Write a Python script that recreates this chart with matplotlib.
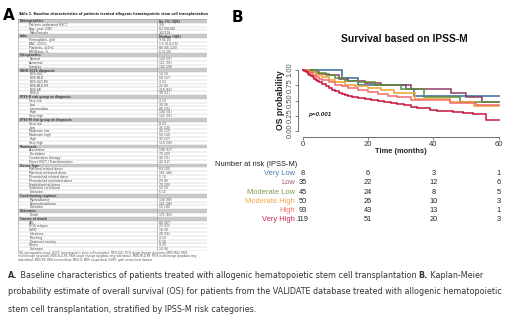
import matplotlib
matplotlib.use("Agg")
import matplotlib.pyplot as plt
from matplotlib.patches import Rectangle
from matplotlib.transforms import blended_transform_factory

W, H = 520, 328
fig = plt.figure(figsize=(5.2, 3.28), dpi=100)


def fx(px):
    return px / W


def fy(py):
    return 1 - py / H


# ------------------------------------------------------------------ data
groups = ["Very Low", "Low", "Moderate Low", "Moderate High", "High", "Very High"]
line_colors = ["#2F6A98", "#8A3E66", "#5E8E3A", "#F2A22E", "#F26B6B", "#C8143E"]
label_colors = ["#4A79A8", "#A0627F", "#7B9C50", "#F0A640", "#F26E6E", "#C8244C"]

vl_t = [0, 12, 17, 31.5, 34]
vl_s = [1.0, 0.875, 0.76, 0.69, 0.57]
low_t = [0, 2, 5, 8, 11, 14, 19, 24, 33, 45.5, 50, 55]
low_s = [1.0, 0.97, 0.94, 0.91, 0.85, 0.82, 0.79, 0.75, 0.69, 0.63, 0.56, 0.47]
ml_t = [0, 4.5, 7, 10, 13, 17, 22, 30, 37, 48]
ml_s = [1.0, 0.955, 0.91, 0.87, 0.82, 0.80, 0.76, 0.69, 0.55, 0.47]
mh_t = [0, 2, 4, 6, 8, 10, 13, 16, 20, 24, 28, 34.5, 45, 52.5]
mh_s = [1.0, 0.96, 0.92, 0.88, 0.84, 0.80, 0.76, 0.73, 0.70, 0.67, 0.62, 0.53, 0.48, 0.41]
hi_t = [0, 1, 2, 3, 4, 5, 6, 8, 10, 12, 14, 17, 20, 23, 26, 29, 33, 45, 53]
hi_s = [1.0, 0.98, 0.95, 0.92, 0.89, 0.86, 0.83, 0.80, 0.76, 0.73, 0.70, 0.67, 0.64,
        0.61, 0.58, 0.55, 0.51, 0.46, 0.43]
vh_t = [0, 0.5, 1, 1.5, 2, 2.5, 3, 3.5, 4, 4.5, 5, 6, 7, 8, 9, 10, 11, 12, 13, 14, 15,
        17, 19, 21, 23, 25, 27, 29, 31, 33, 35, 37, 39, 41, 43, 46, 49, 52, 56]
vh_s = [1.0, 0.98, 0.96, 0.94, 0.92, 0.90, 0.88, 0.86, 0.84, 0.82, 0.80, 0.77, 0.74,
        0.71, 0.68, 0.65, 0.63, 0.61, 0.59, 0.575, 0.56, 0.54, 0.52, 0.505, 0.49,
        0.475, 0.46, 0.44, 0.42, 0.40, 0.385, 0.37, 0.35, 0.335, 0.32, 0.305, 0.29,
        0.275, 0.175]
follow_up_end = 60

risk_times = [0, 20, 40, 60]
risk_very_low = [8, 6, 3, 1]
risk_low = [35, 22, 12, 6]
risk_mod_low = [45, 24, 8, 5]
risk_mod_high = [50, 26, 10, 3]
risk_high = [93, 43, 13, 1]
risk_very_high = [119, 51, 20, 3]

x_ticks = [0, 20, 40, 60]
y_ticks = [0.00, 0.25, 0.50, 0.75, 1.00]
p_value_text = "p=0.001"

# Table 1 (panel A)
table_title = ("Table 1. Baseline characteristics of patients treated allogenic "
               "hematopoietic stem cell transplantation")
table_labels = [
    "Demographics", "Patients underwent HSCT", "Age, year (IQR)", "Male/Female",
    "Labs", "Hemoglobin, g/dl", "ANC, x10⁹/L", "Platelets, x10⁹/L", "BM Blasts, %",
    "Cytogenetics", "Normal", "Abnormal", "Complex",
    "WHO 2016 diagnosis", "MDS-SLD", "MDS-MLD", "MDS-SLD-RS", "MDS-MLD-RS", "MDS-EB", "MDS-U",
    "IPSS-R risk group at diagnosis", "Very low", "Low", "Intermediate", "High", "Very high",
    "IPSS-M risk group at diagnosis", "Very low", "Low", "Moderate low", "Moderate high",
    "High", "Very high",
    "Treatment", "Azacitidine", "Decitabine", "Combination therapy",
    "Direct HSCT / Transformation",
    "Donor Type", "Matched related donor", "Matched unrelated donor",
    "Mismatched related donor", "Mismatched unrelated donor", "Haploidentical donor",
    "Umbilical cord blood", "Unknown",
    "Conditioning regimen", "Myeloablative", "Nonmyeloablative", "Unknown",
    "Outcomes", "Death",
    "Causes of death", "AML", "MDS relapse", "GVHD", "Infections", "Bleeding",
    "Treatment toxicity", "Others", "Unknown",
]
table_values = [
    "No (%) (IQR)", "350", "63 (58-68)", "232/118",
    "Median (IQR)", "9 (8-10)", "1.5 (0.8-2.6)", "80 (45-120)", "6 (2-10)",
    "", "129 (37)", "121 (35)", "100 (29)",
    "", "10 (3)", "58 (17)", "4 (1)", "22 (6)", "218 (62)", "38 (11)",
    "", "4 (1)", "30 (9)", "86 (25)", "108 (31)", "122 (35)",
    "", "8 (2)", "35 (10)", "45 (13)", "50 (14)", "93 (27)", "119 (34)",
    "", "198 (57)", "70 (20)", "40 (11)", "42 (12)",
    "", "69 (20)", "161 (46)", "5 (1)", "29 (8)", "70 (20)", "10 (3)", "6 (2)",
    "", "134 (38)", "161 (46)", "55 (16)",
    "", "171 (49)",
    "", "80 (47)", "23 (13)", "16 (9)", "28 (16)", "4 (2)", "6 (4)", "4 (2)", "10 (6)",
]
table_headers = ["Demographics", "Labs", "Cytogenetics", "WHO 2016 diagnosis",
                 "IPSS-R risk group at diagnosis", "IPSS-M risk group at diagnosis",
                 "Treatment", "Donor Type", "Conditioning regimen", "Outcomes",
                 "Causes of death"]
table_footnote = [
    "IQR: interquartile range; HSCT: hematopoietic stem cell transplant; MDS-SLD: MDS single lineage dysplasia; MDS-MLD: MDS",
    "multilineage dysplasia; MDS-SLD-RS: MDS single lineage dysplasia ring sideroblast; MDS-MLD-RS: MDS multilineage dysplasia ring",
    "sideroblast; MDS-EB: MDS excess blast; MDS-U: MDS unspecified; GVHD: graft versus host disease",
]

caption_lines = [
    [("A.", "bold"), (" Baseline characteristics of patients treated with allogenic hematopoietic stem cell transplantation ", "normal"),
     ("B.", "bold"), (" Kaplan-Meier", "normal")],
    [("probability estimate of overall survival (OS) for patients from the VALIDATE database treated with allogenic hematopoietic", "normal")],
    [("stem cell transplantation, stratified by IPSS-M risk categories.", "normal")],
]

# background axes for free text
ax_bg = fig.add_axes([0, 0, 1, 1])
ax_bg.set_xlim(0, 1)
ax_bg.set_ylim(0, 1)
ax_bg.axis("off")

# ------------------------------------------------------------------ panel labels
fig.text(fx(3), fy(16), "A", fontsize=11, fontweight="bold", va="center", ha="left",
         family="DejaVu Sans")
fig.text(fx(232), fy(17), "B", fontsize=11, fontweight="bold", va="center", ha="left",
         family="DejaVu Sans")

# ------------------------------------------------------------------ table (panel A)
fig.text(fx(18), fy(14), table_title, fontsize=2.3, fontweight="bold", va="center",
         ha="left", color="#222222")
tab_top, tab_bot, tab_left, tab_right = 19, 251, 18, 207
ax_t = fig.add_axes([fx(tab_left), fy(tab_bot), fx(tab_right - tab_left),
                     (tab_bot - tab_top) / H])
n_rows = len(table_labels)
ax_t.set_xlim(0, 1)
ax_t.set_ylim(n_rows, 0)
ax_t.axis("off")
col_split = (157 - tab_left) / (tab_right - tab_left)
for i, (lab, val) in enumerate(zip(table_labels, table_values)):
    is_head = lab in table_headers
    if is_head:
        ax_t.add_patch(Rectangle((0, i), 1, 1, facecolor="#C9C9C9", edgecolor="none"))
    ax_t.plot([0, 1], [i + 1, i + 1], color="#BBBBBB", lw=0.3)
    ax_t.text(0.01 if is_head else 0.06, i + 0.55, lab, fontsize=2.2,
              fontweight="bold" if is_head else "normal", va="center", ha="left",
              color="#444444")
    ax_t.text(col_split + 0.01, i + 0.55, val, fontsize=2.2,
              fontweight="bold" if is_head else "normal", va="center", ha="left",
              color="#444444")
ax_t.plot([0, 1], [0, 0], color="#999999", lw=0.4)
ax_t.plot([col_split, col_split], [0, n_rows], color="#999999", lw=0.4)
ax_t.plot([0, 0], [0, n_rows], color="#999999", lw=0.4)
ax_t.plot([1, 1], [0, n_rows], color="#999999", lw=0.4)
for k, line in enumerate(table_footnote):
    fig.text(fx(18), fy(253 + 3.3 * k), line, fontsize=2.0, va="center", ha="left",
             color="#555555")

# ------------------------------------------------------------------ KM plot (panel B)
x0_px, x60_px = 302.7, 498.7
y0_px, y1_px = 131, 70
ax = fig.add_axes([fx(x0_px), fy(y0_px), fx(x60_px - x0_px), (y0_px - y1_px) / H])
ax.set_xlim(0, 60)
ax.set_ylim(0, 1)

curves = [(vl_t, vl_s), (low_t, low_s), (ml_t, ml_s), (mh_t, mh_s), (hi_t, hi_s),
          (vh_t, vh_s)]
for (t, s), c in zip(curves, line_colors):
    ax.step(list(t) + [follow_up_end], list(s) + [s[-1]], where="post", color=c,
            lw=1.1, clip_on=False, solid_joinstyle="miter")

for sp in ["top", "right"]:
    ax.spines[sp].set_visible(False)
ax.spines["left"].set_position(("outward", 3.4))
ax.spines["bottom"].set_position(("outward", 4.1))
ax.spines["left"].set_bounds(0, 1)
ax.spines["bottom"].set_bounds(0, 60)
for sp in ["left", "bottom"]:
    ax.spines[sp].set_color("#555555")
    ax.spines[sp].set_linewidth(0.6)
ax.set_xticks(x_ticks)
ax.set_xticklabels([str(v) for v in x_ticks], fontsize=5.5, color="#333333",
                   family="Liberation Sans")
ax.set_yticks(y_ticks)
ax.set_yticklabels([f"{v:.2f}" for v in y_ticks], fontsize=5.5, color="#555555",
                   rotation=90, va="center", family="Liberation Sans")
ax.tick_params(axis="both", length=2, width=0.5, color="#555555", pad=1)
ax.set_xlabel("Time (months)", fontsize=5.4, fontweight="bold", labelpad=0.3,
              family="Liberation Sans", color="#222222")
ax.set_ylabel("OS probability", fontsize=6.2, fontweight="bold", labelpad=1.2,
              family="Liberation Sans", color="#222222")
ax.text(1.7, 0.27, p_value_text, fontsize=4.5, fontstyle="italic", fontweight="bold",
        va="center", ha="left", family="Liberation Sans", color="#222222")
fig.text(fx(404), fy(39), "Survival based on IPSS-M", fontsize=7.4, fontweight="bold",
         ha="center", va="center", family="Liberation Sans", color="#111111")

# risk table
risk_rows = [risk_very_low, risk_low, risk_mod_low, risk_mod_high, risk_high,
             risk_very_high]
risk_y_px = [173.3, 182.7, 192, 201.3, 210.7, 219.7]
tr = blended_transform_factory(ax.transData, fig.transFigure)
fig.text(fx(297), fy(164.5), "Number at risk (IPSS-M)", fontsize=5.4, ha="right",
         va="center", family="Liberation Sans", color="#222222")
for name, col, vals, ypx in zip(groups, label_colors, risk_rows, risk_y_px):
    fig.text(fx(295), fy(ypx), name, fontsize=5.4, ha="right", va="center",
             family="Liberation Sans", color=col)
    for t, v in zip(risk_times, vals):
        ax.text(t, fy(ypx), str(v), transform=tr, fontsize=5.3, ha="center",
                va="center", family="Liberation Sans", color="#222222", clip_on=False)

# ------------------------------------------------------------------ caption
cap_y = [275, 292, 309]
cap_fs = 5.75
for parts, ypx in zip(caption_lines, cap_y):
    txt0, wt0 = parts[0]
    prev = ax_bg.text(fx(8), fy(ypx), txt0, fontsize=cap_fs, fontweight=wt0,
                      va="center", ha="left", color="#333333", family="DejaVu Sans")
    for txt, wt in parts[1:]:
        prev = ax_bg.annotate(txt, xy=(1, 0.5), xycoords=prev, va="center",
                              ha="left", fontsize=cap_fs, fontweight=wt,
                              color="#333333", family="DejaVu Sans")

fig.savefig("out.png", dpi=100)
